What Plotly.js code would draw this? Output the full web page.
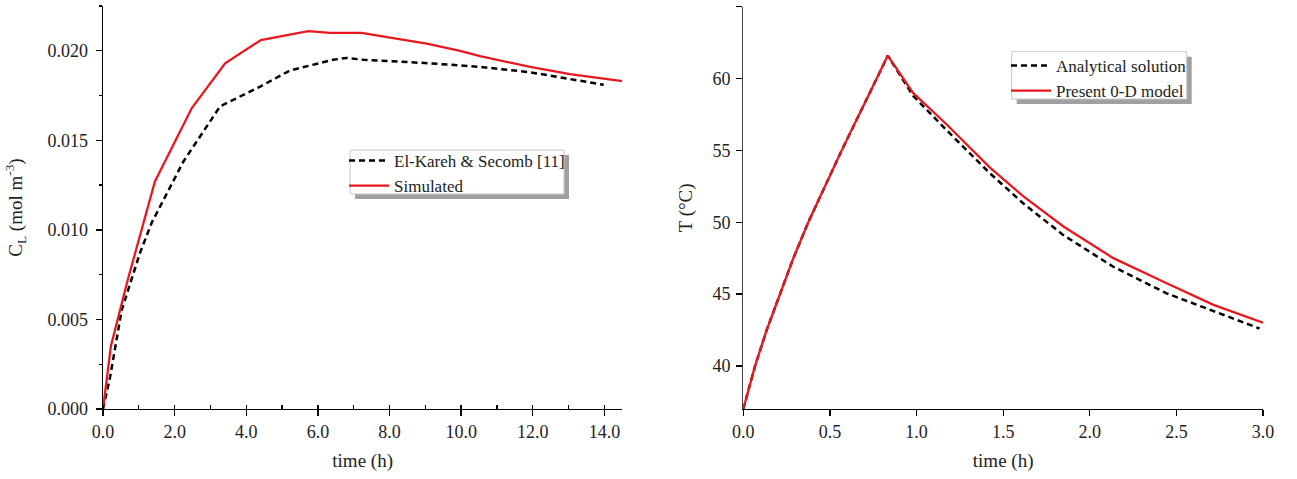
<!DOCTYPE html>
<html><head><meta charset="utf-8">
<script src="https://cdn.plot.ly/plotly-3.0.1.min.js"></script>
<style>html,body{margin:0;padding:0;background:#fff}#plot{width:1297px;height:479px}</style>
</head><body><div id="plot"></div>
<script>
// Left panel: liposome concentration
const refTime = [0, 0.2, 0.52, 1.03, 1.36, 2.24, 3.27, 4.39, 5.22, 6.43, 6.8, 7.27, 9.13, 10.53, 11.93, 13.98];
const refConc = [0, 0.0018, 0.0055, 0.0087, 0.0104, 0.0138, 0.0169, 0.0180, 0.0189, 0.0195, 0.0196, 0.0195, 0.0193, 0.0191, 0.0188, 0.0181];
const simTime = [0, 0.22, 0.69, 1.45, 2.48, 3.41, 4.41, 5.73, 6.34, 7.22, 8.1, 9.04, 9.97, 10.53, 11.93, 13.04, 14.5];
const simConc = [0, 0.0035, 0.0072, 0.0127, 0.0168, 0.0193, 0.0206, 0.0211, 0.0210, 0.0210, 0.0207, 0.0204, 0.0200, 0.0197, 0.0191, 0.0187, 0.0183];
// Right panel: temperature
const anaTime = [0, 0.029, 0.068, 0.135, 0.212, 0.289, 0.375, 0.472, 0.568, 0.77, 0.834, 0.98, 1.174, 1.424, 1.617, 1.848, 2.136, 2.444, 2.714, 2.98];
const anaTemp = [37, 38.3, 40.0, 42.5, 45.0, 47.5, 50.0, 52.5, 55.0, 60.0, 61.6, 58.8, 56.4, 53.4, 51.3, 49.1, 46.9, 45.05, 43.8, 42.6];
const modTime = [0, 0.029, 0.068, 0.135, 0.212, 0.289, 0.375, 0.472, 0.568, 0.77, 0.834, 0.98, 1.174, 1.424, 1.617, 1.848, 2.136, 2.444, 2.714, 3.0];
const modTemp = [37, 38.3, 40.0, 42.5, 45.0, 47.5, 50.0, 52.5, 55.0, 60.0, 61.6, 59.0, 56.8, 53.8, 51.8, 49.7, 47.5, 45.75, 44.25, 43.0];
const names = ["El-Kareh &amp; Secomb [11]", "Simulated", "Analytical solution", "Present 0-D model"];

const RED = "#e8191e";
const FONT = "'Liberation Serif', 'Times New Roman', serif";
const traces = [
  {x: refTime, y: refConc, name: names[0], mode: "lines", line: {color: "#000", width: 2.5, dash: "6px,4px"}, xaxis: "x", yaxis: "y", legend: "legend"},
  {x: simTime, y: simConc, name: names[1], mode: "lines", line: {color: RED, width: 2.3}, xaxis: "x", yaxis: "y", legend: "legend"},
  {x: anaTime, y: anaTemp, name: names[2], mode: "lines", line: {color: "#000", width: 2.5, dash: "6px,4px"}, xaxis: "x2", yaxis: "y2", legend: "legend2"},
  {x: modTime, y: modTemp, name: names[3], mode: "lines", line: {color: RED, width: 2.3}, xaxis: "x2", yaxis: "y2", legend: "legend2"}
];
const W = 1297, H = 479;
const tickF = {family: FONT, size: 18, color: "#222"};
const ax = {showline: true, linecolor: "#000", linewidth: 1.3, ticks: "outside", ticklen: 6, tickwidth: 1.3, tickcolor: "#000",
  showgrid: false, zeroline: false, tickfont: tickF, automargin: false};
const tfont = {family: FONT, size: 19, color: "#222"};
const legStyle = {bgcolor: "rgba(0,0,0,0)", borderwidth: 0, font: {family: FONT, size: 17, color: "#222"},
  itemwidth: 40, tracegroupgap: 0, xanchor: "left", yanchor: "top"};
const px = v => v / W, py = v => (H - v) / H;
const layout = {
  width: W, height: H, margin: {l: 0, r: 0, t: 0, b: 0}, paper_bgcolor: "#fff", plot_bgcolor: "#fff",
  font: tickF,
  showlegend: true,
  xaxis: Object.assign({}, ax, {domain: [px(103), px(622.3)], range: [0, 14.5], dtick: 2, tickformat: ".1f",
    minor: {dtick: 1, ticks: "inside", ticklen: 4, tickcolor: "#000"}, anchor: "y",
    title: {text: "time (h)", font: tfont, standoff: 12}}),
  yaxis: Object.assign({}, ax, {domain: [py(409), py(6)], range: [0, 0.0225], dtick: 0.005, tickformat: ".3f",
    ticklabelstandoff: 4,
    minor: {dtick: 0.0025, ticks: "outside", ticklen: 3, tickcolor: "#000"}, anchor: "x",
    title: {text: "C<sub>L</sub> (mol m<sup>-3</sup>)", font: tfont, standoff: 20}}),
  xaxis2: Object.assign({}, ax, {domain: [px(743.3), px(1263)], range: [0, 3.0], dtick: 0.5, tickformat: ".1f", anchor: "y2",
    title: {text: "time (h)", font: tfont, standoff: 12}}),
  yaxis2: Object.assign({}, ax, {domain: [py(409), py(6.7)], range: [37, 65], dtick: 5, anchor: "x2", linecolor: "#444",
    ticklabelstandoff: 2,
    title: {text: "T (°C)", font: tfont, standoff: 14}}),
  legend: Object.assign({}, legStyle, {x: px(344), y: py(143)}),
  legend2: Object.assign({}, legStyle, {x: px(1006), y: py(48)}),
  shapes: [
    {type: "rect", xref: "paper", yref: "paper", x0: px(355), x1: px(569), y0: py(199), y1: py(155), fillcolor: "#a0a0a0", line: {width: 0}, layer: "above"},
    {type: "rect", xref: "paper", yref: "paper", x0: px(350), x1: px(564), y0: py(194), y1: py(150), fillcolor: "#fff", line: {width: 1, color: "#c8c8c8"}, layer: "above"},
    {type: "rect", xref: "paper", yref: "paper", x0: px(1016.7), x1: px(1191.7), y0: py(104), y1: py(56.7), fillcolor: "#a0a0a0", line: {width: 0}, layer: "above"},
    {type: "rect", xref: "paper", yref: "paper", x0: px(1011.7), x1: px(1186.7), y0: py(99), y1: py(51.7), fillcolor: "#fff", line: {width: 1, color: "#c8c8c8"}, layer: "above"}
  ]
};
Plotly.newPlot("plot", traces, layout, {displayModeBar: false, staticPlot: true});
</script></body></html>
